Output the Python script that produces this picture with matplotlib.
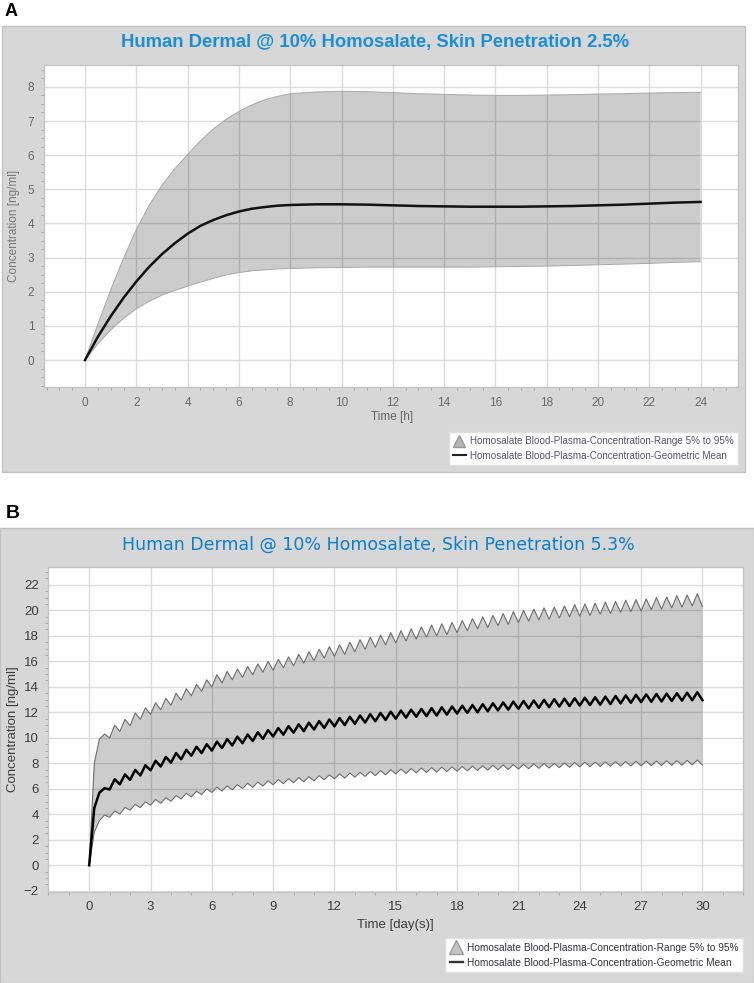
import matplotlib
matplotlib.use("Agg")
import matplotlib.pyplot as plt
from matplotlib.patches import Rectangle
from matplotlib.lines import Line2D
from matplotlib.ticker import MultipleLocator

# ---------------- Panel A data (time in hours) ----------------
HOURS_A = [0, 0.5, 1, 1.5, 2, 2.5, 3, 3.5, 4, 4.5, 5, 5.5, 6, 6.5, 7, 7.5, 8,
           9, 10, 11, 12, 13, 14, 15, 16, 17, 18, 19, 20, 21, 22, 23, 24]
MEAN_A = [0, 0.68, 1.28, 1.82, 2.3, 2.73, 3.1, 3.42, 3.7, 3.93, 4.1, 4.24, 4.35, 4.43, 4.48, 4.52, 4.54,
          4.56, 4.56, 4.55, 4.53, 4.51, 4.5, 4.49, 4.49, 4.49, 4.5, 4.51, 4.53, 4.55, 4.58, 4.61, 4.63]
UPPER_A = [0, 1.05, 2.05, 2.98, 3.82, 4.53, 5.12, 5.6, 6.02, 6.42, 6.77, 7.05, 7.28, 7.47, 7.62, 7.72, 7.8,
           7.85, 7.87, 7.86, 7.83, 7.8, 7.78, 7.76, 7.75, 7.75, 7.76, 7.77, 7.79, 7.8, 7.82, 7.83, 7.84]
LOWER_A = [0, 0.47, 0.88, 1.22, 1.5, 1.72, 1.9, 2.04, 2.16, 2.28, 2.39, 2.49, 2.56, 2.61, 2.64, 2.67, 2.68,
           2.7, 2.71, 2.72, 2.72, 2.72, 2.72, 2.72, 2.73, 2.74, 2.75, 2.77, 2.79, 2.81, 2.83, 2.86, 2.88]

# ---------------- Panel B data (time in days) ----------------
DAYS_B = [0, 0.25, 0.5, 0.75, 1, 1.25, 1.5, 1.75, 2, 2.25, 2.5, 2.75, 3, 3.25, 3.5, 3.75,
          4, 4.25, 4.5, 4.75, 5, 5.25, 5.5, 5.75, 6, 6.25, 6.5, 6.75, 7, 7.25, 7.5, 7.75,
          8, 8.25, 8.5, 8.75, 9, 9.25, 9.5, 9.75, 10, 10.25, 10.5, 10.75, 11, 11.25, 11.5, 11.75,
          12, 12.25, 12.5, 12.75, 13, 13.25, 13.5, 13.75, 14, 14.25, 14.5, 14.75, 15, 15.25, 15.5, 15.75,
          16, 16.25, 16.5, 16.75, 17, 17.25, 17.5, 17.75, 18, 18.25, 18.5, 18.75, 19, 19.25, 19.5, 19.75,
          20, 20.25, 20.5, 20.75, 21, 21.25, 21.5, 21.75, 22, 22.25, 22.5, 22.75, 23, 23.25, 23.5, 23.75,
          24, 24.25, 24.5, 24.75, 25, 25.25, 25.5, 25.75, 26, 26.25, 26.5, 26.75, 27, 27.25, 27.5, 27.75,
          28, 28.25, 28.5, 28.75, 29, 29.25, 29.5, 29.75, 30]
UPPER_B = [0.0, 8.0, 9.9, 10.3, 10.0, 11.0, 10.5, 11.45, 10.95, 11.95, 11.45, 12.35, 11.85, 12.75, 12.2, 13.1,
           12.55, 13.5, 12.95, 13.85, 13.3, 14.2, 13.65, 14.55, 14.0, 14.95, 14.3, 15.2, 14.55, 15.4, 14.75, 15.6,
           14.95, 15.8, 15.15, 16.0, 15.3, 16.15, 15.5, 16.35, 15.65, 16.55, 15.85, 16.75, 16.05, 16.95, 16.25, 17.15,
           16.4, 17.3, 16.55, 17.5, 16.75, 17.7, 16.95, 17.9, 17.1, 18.05, 17.3, 18.25, 17.45, 18.4, 17.6, 18.55,
           17.75, 18.7, 17.9, 18.85, 18.0, 18.95, 18.1, 19.05, 18.25, 19.2, 18.4, 19.35, 18.55, 19.5, 18.65, 19.6,
           18.8, 19.75, 18.9, 19.9, 19.05, 20.0, 19.15, 20.1, 19.25, 20.2, 19.3, 20.25, 19.4, 20.35, 19.5, 20.45,
           19.55, 20.5, 19.6, 20.55, 19.7, 20.65, 19.75, 20.7, 19.85, 20.8, 19.9, 20.85, 19.95, 20.9, 20.05, 21.0,
           20.1, 21.05, 20.2, 21.15, 20.25, 21.2, 20.35, 21.3, 20.3]
MEAN_B = [0.0, 4.5, 5.7, 6.05, 5.95, 6.75, 6.35, 7.13, 6.7, 7.48, 7.05, 7.85, 7.45, 8.2, 7.75, 8.5,
          8.05, 8.8, 8.32, 9.06, 8.6, 9.3, 8.8, 9.5, 9.0, 9.7, 9.2, 9.9, 9.4, 10.09, 9.58, 10.26,
          9.75, 10.44, 9.92, 10.61, 10.1, 10.77, 10.25, 10.92, 10.4, 11.06, 10.52, 11.19, 10.65, 11.31, 10.77, 11.44,
          10.9, 11.55, 11.0, 11.65, 11.1, 11.75, 11.2, 11.85, 11.3, 11.95, 11.4, 12.05, 11.5, 12.14, 11.58, 12.21,
          11.65, 12.27, 11.7, 12.33, 11.75, 12.39, 11.82, 12.46, 11.9, 12.52, 11.95, 12.57, 12.0, 12.64, 12.08, 12.71,
          12.15, 12.78, 12.21, 12.84, 12.27, 12.89, 12.31, 12.93, 12.35, 12.98, 12.4, 13.03, 12.45, 13.07, 12.49, 13.11,
          12.53, 13.15, 12.57, 13.18, 12.6, 13.23, 12.65, 13.28, 12.7, 13.33, 12.75, 13.38, 12.8, 13.41, 12.83, 13.44,
          12.85, 13.47, 12.89, 13.5, 12.92, 13.54, 12.95, 13.57, 12.96]
LOWER_B = [0.0, 2.6, 3.5, 3.95, 3.77, 4.26, 4.02, 4.53, 4.32, 4.78, 4.52, 4.98, 4.72, 5.16, 4.87, 5.31,
           5.02, 5.47, 5.2, 5.65, 5.37, 5.81, 5.54, 5.99, 5.72, 6.13, 5.82, 6.23, 5.92, 6.33, 6.02, 6.43,
           6.12, 6.53, 6.22, 6.63, 6.32, 6.72, 6.40, 6.80, 6.48, 6.88, 6.56, 6.95, 6.63, 7.03, 6.71, 7.10,
           6.78, 7.17, 6.84, 7.24, 6.91, 7.30, 6.97, 7.37, 7.04, 7.43, 7.10, 7.50, 7.17, 7.55, 7.21, 7.59,
           7.25, 7.63, 7.28, 7.66, 7.32, 7.70, 7.35, 7.72, 7.38, 7.75, 7.41, 7.78, 7.44, 7.81, 7.47, 7.84,
           7.50, 7.87, 7.52, 7.90, 7.55, 7.92, 7.58, 7.95, 7.61, 7.98, 7.63, 8.00, 7.66, 8.03, 7.69, 8.06,
           7.72, 8.09, 7.73, 8.10, 7.75, 8.12, 7.77, 8.13, 7.78, 8.15, 7.79, 8.16, 7.80, 8.17, 7.82, 8.18,
           7.83, 8.20, 7.85, 8.21, 7.86, 8.23, 7.88, 8.25, 7.87]

TITLE_A = "Human Dermal @ 10% Homosalate, Skin Penetration 2.5%"
TITLE_B = "Human Dermal @ 10% Homosalate, Skin Penetration 5.3%"
LEG_RANGE = "Homosalate Blood-Plasma-Concentration-Range 5% to 95%"
LEG_MEAN = "Homosalate Blood-Plasma-Concentration-Geometric Mean"
YLABEL = "Concentration [ng/ml]"
XLABEL_A = "Time [h]"
XLABEL_B = "Time [day(s)]"

NARROW = ['Liberation Sans', 'DejaVu Sans']
ARIAL = ['Liberation Sans', 'DejaVu Sans']

W, H = 754, 983
fig = plt.figure(figsize=(W / 100, H / 100), dpi=100)
fig.patch.set_facecolor('white')


def fx(px):
    return px / W


def fy(py):
    return 1 - py / H


# frames
fig.add_artist(Rectangle((fx(2), fy(472)), fx(743), (472 - 26) / H, transform=fig.transFigure,
                         facecolor='#d7d7d7', edgecolor='#c2c2c2', lw=1.0, zorder=-5))
fig.add_artist(Rectangle((0, fy(983)), 1, (983 - 528) / H, transform=fig.transFigure,
                         facecolor='#d7d7d7', edgecolor='#c2c2c2', lw=1.0, zorder=-5))

fig.text(fx(5), fy(11), "A", fontsize=13, fontweight='bold', family=ARIAL, va='center', ha='left')
fig.text(fx(6), fy(514), "B", fontsize=14, fontweight='bold', family=ARIAL, va='center', ha='left')

fig.text(fx(375), fy(42), TITLE_A, fontsize=13.3, fontweight='bold', color='#1b8fd6', family=ARIAL,
         ha='center', va='center')
fig.text(fx(378), fy(545), TITLE_B, fontsize=12.5, color='#0a7fcb', family=['DejaVu Sans'], ha='center',
         va='center')


def style_axes(ax, tick_color, fsize):
    ax.set_facecolor('white')
    ax.set_axisbelow(True)
    ax.grid(True, which='major', color='#dcdcdc', lw=1.0, zorder=0)
    for s in ax.spines.values():
        s.set_color('#c4c4c4')
        s.set_linewidth(1.0)
    ax.tick_params(which='major', length=0, pad=7, labelsize=fsize, labelcolor=tick_color)
    ax.tick_params(which='minor', length=2, direction='out', color='#a0a0a0', width=0.6)
    for lab in ax.get_xticklabels() + ax.get_yticklabels():
        lab.set_family(NARROW)


# ---------------- Panel A ----------------
axA = fig.add_axes([fx(44), fy(387), fx(738 - 44), (387 - 65) / H])
axA.fill_between(HOURS_A, LOWER_A, UPPER_A, facecolor='black', alpha=0.2, lw=0, zorder=2)
axA.plot(HOURS_A, UPPER_A, color='#a8a8a8', lw=0.7, zorder=3)
axA.plot(HOURS_A, LOWER_A, color='#a8a8a8', lw=0.7, zorder=3)
axA.plot(HOURS_A, MEAN_A, color='#111111', lw=1.8, zorder=4)
axA.set_xlim(-1.6, 25.46)
axA.set_ylim(-0.79, 8.64)
axA.xaxis.set_major_locator(MultipleLocator(2))
axA.yaxis.set_major_locator(MultipleLocator(1))
axA.xaxis.set_minor_locator(MultipleLocator(0.5))
axA.yaxis.set_minor_locator(MultipleLocator(0.25))
style_axes(axA, '#6a6a6a', 8.5)
fig.text(fx(392), fy(417), XLABEL_A, fontsize=8.5, color='#666666', family=NARROW, ha='center', va='center')
fig.text(fx(14), fy(226), YLABEL, fontsize=8.5, color='#777777', family=NARROW, ha='center', va='center',
         rotation=90)

handles_A = [Line2D([], [], marker='^', color='#b4b4b4', markersize=9, lw=0, markeredgecolor='#9a9a9a'),
             Line2D([], [], color='#222222', lw=1.5)]
legA = axA.legend(handles_A, [LEG_RANGE, LEG_MEAN], loc='upper right',
                  bbox_to_anchor=(fx(738), fy(432)), bbox_transform=fig.transFigure,
                  frameon=True, fancybox=False, framealpha=1, edgecolor='#e0e0e0',
                  prop={'family': NARROW, 'size': 7.1}, handlelength=1.3, handletextpad=0.4,
                  labelspacing=0.45, borderpad=0.45, borderaxespad=0)
for t in legA.get_texts():
    t.set_color('#555566')

# ---------------- Panel B ----------------
axB = fig.add_axes([fx(48.3), fy(891.7), fx(743.3 - 48.3), (891.7 - 567) / H])
axB.fill_between(DAYS_B, LOWER_B, UPPER_B, facecolor='black', alpha=0.2, lw=0, zorder=2)
axB.plot(DAYS_B, UPPER_B, color='#6e6e6e', lw=0.8, zorder=3)
axB.plot(DAYS_B, LOWER_B, color='#6e6e6e', lw=0.8, zorder=3)
axB.plot(DAYS_B, MEAN_B, color='black', lw=1.8, zorder=4)
axB.set_xlim(-2.0, 32.0)
axB.set_ylim(-2.07, 23.4)
axB.xaxis.set_major_locator(MultipleLocator(3))
axB.yaxis.set_major_locator(MultipleLocator(2))
axB.xaxis.set_minor_locator(MultipleLocator(1))
axB.yaxis.set_minor_locator(MultipleLocator(0.5))
style_axes(axB, '#3c3c3c', 9.5)
fig.text(fx(395), fy(925), XLABEL_B, fontsize=9.5, color='#3c3c3c', family=NARROW, ha='center', va='center')
fig.text(fx(13), fy(729), YLABEL, fontsize=9.5, color='#3c3c3c', family=NARROW, ha='center', va='center',
         rotation=90)

handles_B = [Line2D([], [], marker='^', color='#c4c4c4', markersize=10, lw=0, markeredgecolor='#9a9a9a'),
             Line2D([], [], color='#333333', lw=1.7)]
legB = axB.legend(handles_B, [LEG_RANGE, LEG_MEAN], loc='upper right',
                  bbox_to_anchor=(fx(743), fy(938)), bbox_transform=fig.transFigure,
                  frameon=True, fancybox=False, framealpha=1, edgecolor='#e0e0e0',
                  prop={'family': NARROW, 'size': 7.3}, handlelength=1.3, handletextpad=0.4,
                  labelspacing=0.5, borderpad=0.45, borderaxespad=0)
for t in legB.get_texts():
    t.set_color('#333344')

fig.savefig("out.png", dpi=100)
